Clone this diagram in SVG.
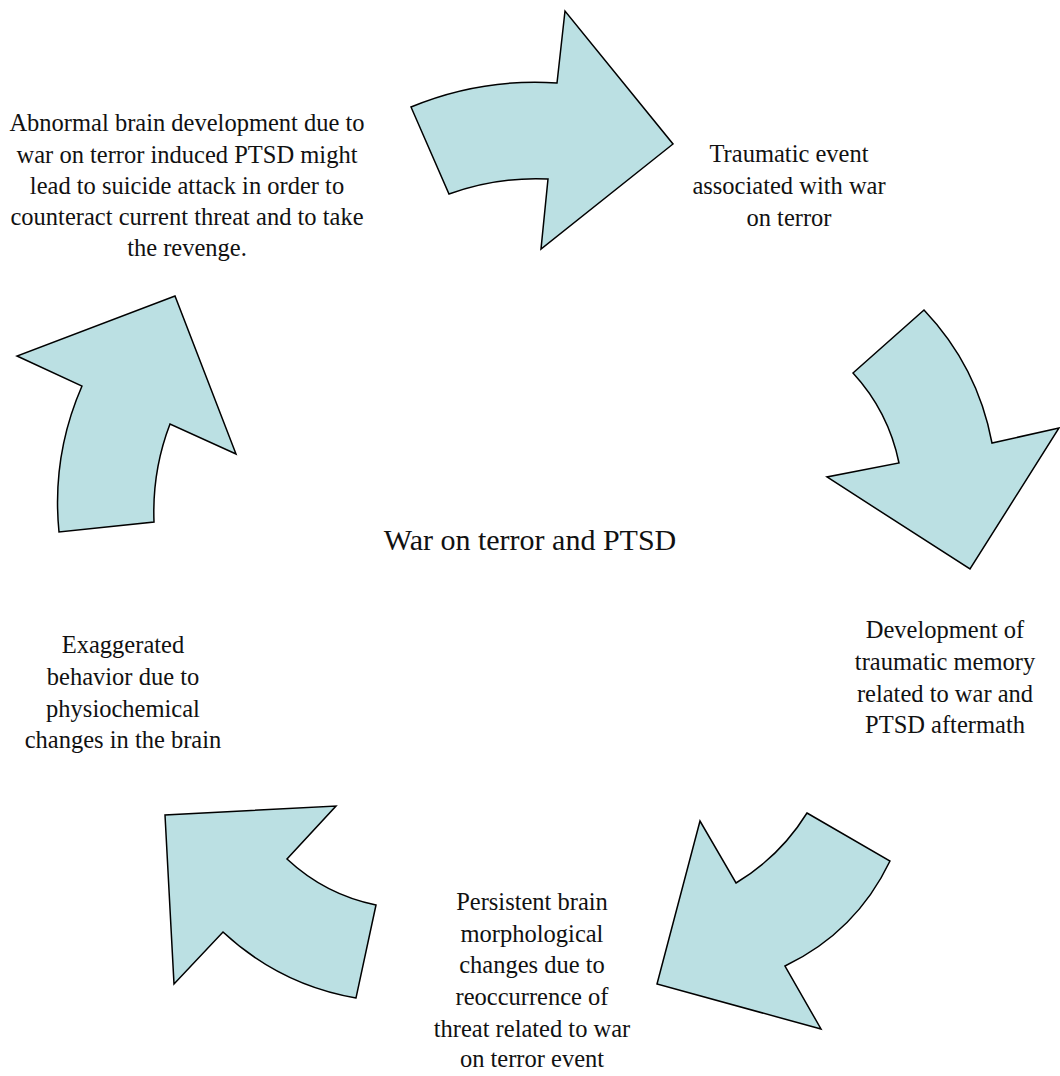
<svg xmlns="http://www.w3.org/2000/svg" width="1060" height="1076" viewBox="0 0 1060 1076">
<style>
.arrow{fill:#BBE0E3;stroke:#000;stroke-width:1.5;stroke-linejoin:miter}
.lbl{font-family:"Liberation Serif","Times New Roman",serif;font-size:24.5px;fill:#111;text-anchor:middle}
.title{font-family:"Liberation Serif","Times New Roman",serif;font-size:30px;fill:#111;text-anchor:middle}
</style>
<rect width="1060" height="1076" fill="#fff"/>
<g id="connectors">
<path id="arrow1" class="arrow" d="M411,107 Q481,78 557,83 L565,11 L673,144 L541,249 L548,179 Q497,176.6 449,194 Z"/>
<path id="arrow2" class="arrow" d="M924,310 Q977.6,366.5 992,443 L1059,428 L970,569 L827,477 L899,463 Q888.5,411.6 853,373 Z"/>
<path id="arrow3" class="arrow" d="M807,813 L890,861 Q856,932 785,966 L821,1029 L657,984 L700,821 L736,883 Q780,856.5 807,813 Z"/>
<path id="arrow4" class="arrow" d="M376,905 L356,998 Q280,985 223,932 L174,984 L165,815 L336,806 L287,859 Q325,894.5 376,905 Z"/>
<path id="arrow5" class="arrow" d="M59,532 Q51.5,456 82,386 L17,356 L175,296 L236,454 L170,424 Q152,471 154,522 Z"/>
</g>
<g id="node-center"><text class="title" x="530" y="550">War on terror and PTSD</text></g>
<g id="node-top-right"><text class="lbl"><tspan x="789" y="162">Traumatic event</tspan><tspan x="789" y="194">associated with war</tspan><tspan x="789" y="226">on terror</tspan></text></g>
<g id="node-right"><text class="lbl"><tspan x="945" y="638">Development of</tspan><tspan x="945" y="670">traumatic memory</tspan><tspan x="945" y="702">related to war and</tspan><tspan x="945" y="733">PTSD aftermath</tspan></text></g>
<g id="node-bottom"><text class="lbl"><tspan x="532" y="910">Persistent brain</tspan><tspan x="532" y="942">morphological</tspan><tspan x="532" y="973">changes due to</tspan><tspan x="532" y="1005">reoccurrence of</tspan><tspan x="532" y="1037">threat related to war</tspan><tspan x="532" y="1067">on terror event</tspan></text></g>
<g id="node-left"><text class="lbl"><tspan x="123" y="653">Exaggerated</tspan><tspan x="123" y="685">behavior due to</tspan><tspan x="123" y="717">physiochemical</tspan><tspan x="123" y="748">changes in the brain</tspan></text></g>
<g id="node-top-left"><text class="lbl"><tspan x="187" y="131">Abnormal brain development due to</tspan><tspan x="187" y="163">war on terror induced PTSD might</tspan><tspan x="187" y="194">lead to suicide attack in order to</tspan><tspan x="187" y="225">counteract current threat and to take</tspan><tspan x="187" y="256">the revenge.</tspan></text></g>
</svg>
